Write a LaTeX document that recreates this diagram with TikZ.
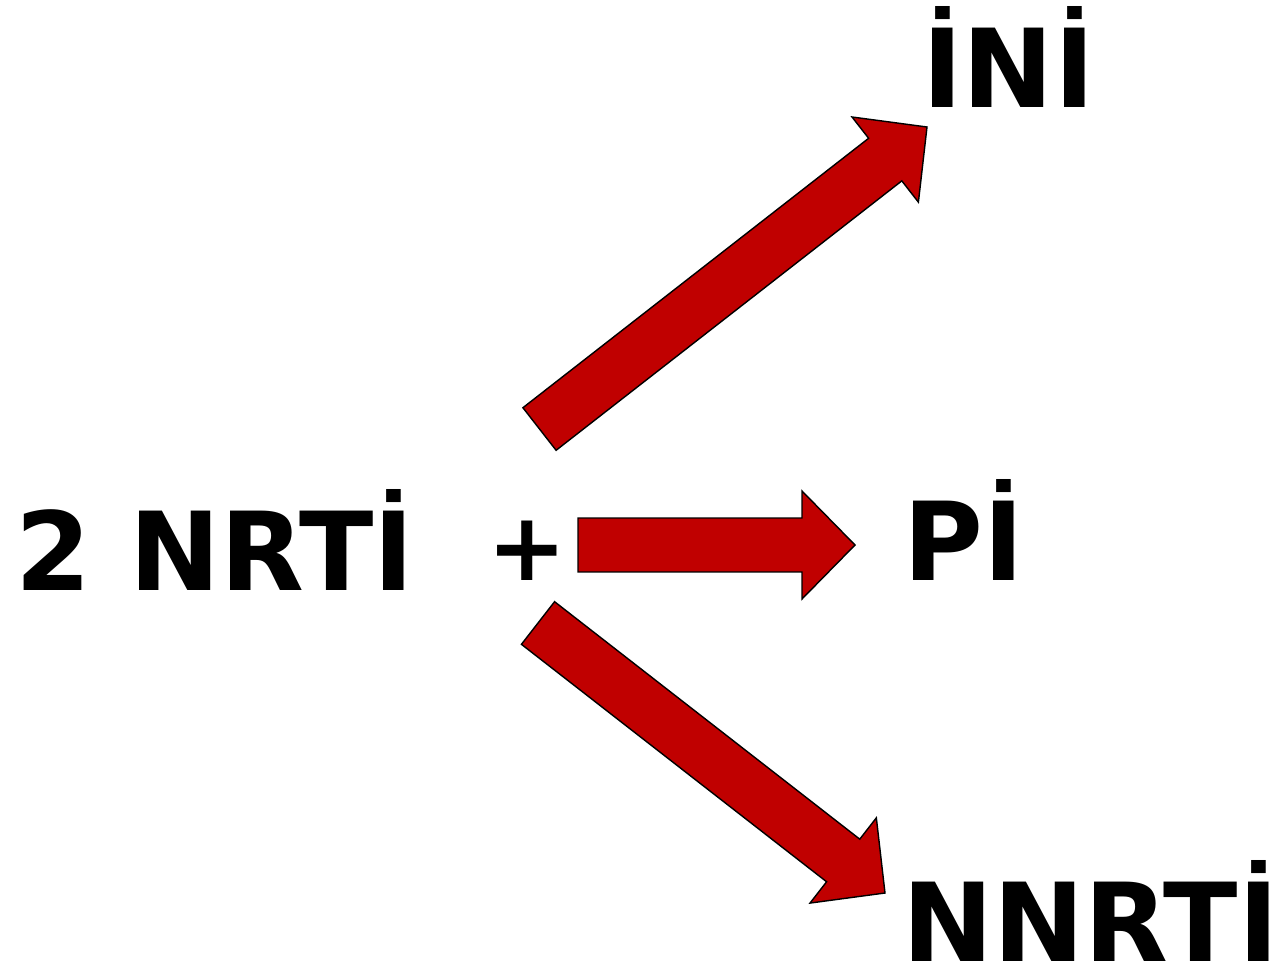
\documentclass[tikz,border=0pt]{standalone}
\usepackage{fontspec}
\setmainfont{DejaVu Sans}
\usepackage{tikz}
\usetikzlibrary{shapes,arrows,positioning,calc}

\definecolor{arrowred}{RGB}{192,0,0}

% block arrow from tail centre #1 to tip #2
\newcommand{\blockarrow}[2]{%
\path ($(#2)!1.06cm!(#1)$) coordinate (neck);
\draw[arrowfill] ($(#1)!0.54cm!90:(#2)$) -- ($(neck)!0.54cm!90:(#2)$) -- ($(neck)!1.08cm!90:(#2)$) -- (#2) -- ($(neck)!1.08cm!-90:(#2)$) -- ($(neck)!0.54cm!-90:(#2)$) -- ($(#1)!0.54cm!-90:(#2)$) -- cycle;
}

\begin{document}
\begin{tikzpicture}[x=0.02cm, y=-0.02cm,
  drug/.style={inner sep=0pt, anchor=base west, font=\fontsize{62}{62}\bfseries\selectfont},
  arrowfill/.style={fill=arrowred, draw=black, line width=0.8pt, line join=miter}]
\useasboundingbox (0,0) rectangle (1284,973);

\node[drug] (nrti) at (15,590) {2 NRTİ};
\node[drug, anchor=center, font=\fontsize{54}{54}\bfseries\selectfont] (plus) at (527,551) {+};
\node[drug] (ini) at (922,108) {İNİ};
\node[drug] (pi) at (903,580) {Pİ};
\node[drug] (nnrti) at (902,961) {NNRTİ};

\coordinate (tailup) at (539.5,429);
\coordinate (tipup) at (927,127);
\coordinate (tailmid) at (578,545);
\coordinate (tipmid) at (855,545);
\coordinate (taildown) at (538,623);
\coordinate (tipdown) at (885,893);

\blockarrow{tailup}{tipup}
\blockarrow{tailmid}{tipmid}
\blockarrow{taildown}{tipdown}
\end{tikzpicture}
\end{document}
